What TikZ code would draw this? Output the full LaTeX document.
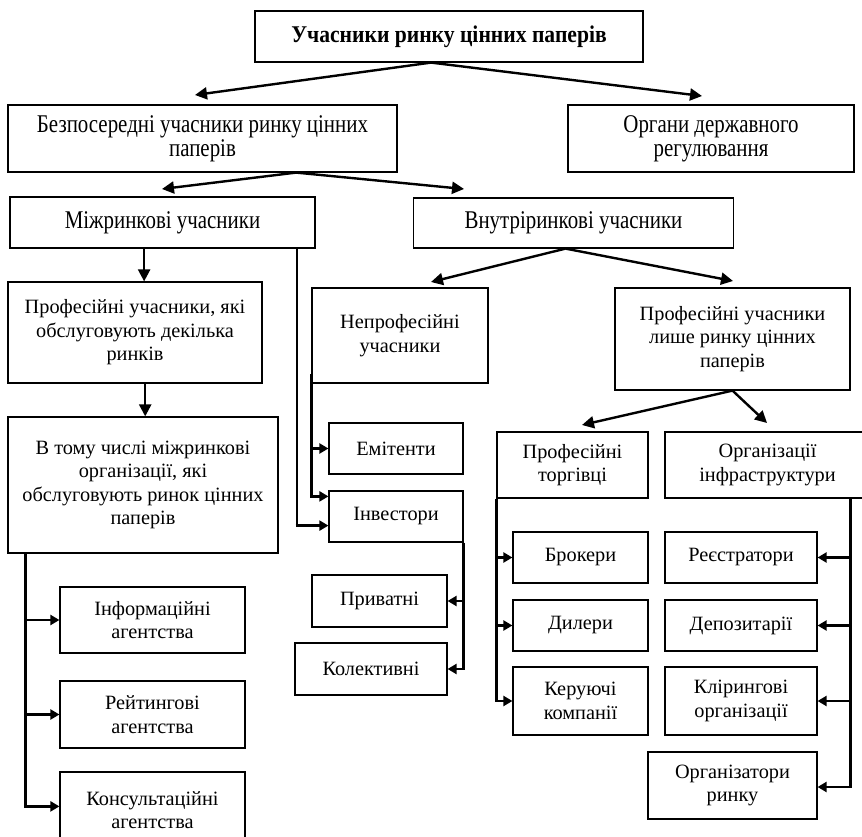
\documentclass[tikz,border=0pt]{standalone}
\usepackage{fontspec}
\setmainfont{Liberation Serif}
\newfontfamily\narrowserif[FakeStretch=0.82]{Liberation Serif}
\newfontfamily\titleserif[FakeStretch=0.9]{Liberation Serif}
\usetikzlibrary{arrows.meta,calc}
\begin{document}
\begin{tikzpicture}[x=1pt,y=-1pt,
  box/.style={draw, line width=1.2pt, align=center, inner sep=0pt,
    font=\fontsize{20.3}{23.5}\selectfont},
  upperbox/.style={box, font=\narrowserif\fontsize{25.5}{24}\selectfont},
  titlebox/.style={box, font=\titleserif\bfseries\fontsize{24}{24}\selectfont},
  arr/.style={line width=2.4pt, -{Triangle[length=12pt,width=12pt]}},
  bar/.style={line width=2.6pt},
  thinbar/.style={line width=2pt},
  tick/.style={line width=2.6pt, -{Triangle[length=9pt,width=10pt]}},
]
\useasboundingbox (0,0) rectangle (862,837);
\begin{scope}
\clip (0,0) rectangle (862,837);

% --- upper levels ---
\node[titlebox, minimum width=388pt, minimum height=51pt] (top) at (449,36.5)
  {Учасники ринку цінних паперів};
\node[upperbox, minimum width=389pt, minimum height=67pt] (bez) at (202.5,138.5)
  {Безпосередні учасники ринку цінних\\паперів};
\node[upperbox, minimum width=286pt, minimum height=67pt] (org) at (711,138.5)
  {Органи державного\\регулювання};
\node[upperbox, minimum width=305pt, minimum height=51pt] (mizh) at (162.5,222.5)
  {Міжринкові учасники};
\node[upperbox, minimum width=320pt, minimum height=50pt] (vnut) at (573.5,223)
  {Внутріринкові учасники};

% --- middle levels ---
\node[box, minimum width=254pt, minimum height=101pt] (pmany) at (135,332.5)
  {Професійні учасники, які\\обслуговують декілька\\ринків};
\node[box, minimum width=270pt, minimum height=136pt] (vtomu) at (143,485)
  {В тому числі міжринкові\\організації, які\\обслуговують ринок цінних\\паперів};
\node[box, minimum width=176pt, minimum height=95pt] (neprof) at (400,335.5)
  {Непрофесійні\\учасники};
\node[box, minimum width=235pt, minimum height=102pt] (ponly) at (732.5,339)
  {Професійні учасники\\лише ринку цінних\\паперів};
\node[box, minimum width=151pt, minimum height=66pt] (torg) at (572.5,465)
  {Професійні\\торгівці};
\node[box, minimum width=205pt, minimum height=66pt] (infra) at (767.5,465)
  {Організації\\інфраструктури};

% --- issuers and investors ---
\node[box, minimum width=134pt, minimum height=51pt] (emit) at (396,448.5) {Емітенти};
\node[box, minimum width=134pt, minimum height=51pt] (invest) at (396,516.5) {Інвестори};
\node[box, minimum width=135pt, minimum height=52pt] (pryv) at (379.5,601) {Приватні};
\node[box, minimum width=152pt, minimum height=52pt] (kolekt) at (371,669) {Колективні};

% --- agencies ---
\node[box, minimum width=185pt, minimum height=66pt] (inform) at (152.5,620)
  {Інформаційні\\агентства};
\node[box, minimum width=185pt, minimum height=67pt] (reit) at (152.5,714.5)
  {Рейтингові\\агентства};
\node[box, minimum width=185pt, minimum height=76pt] (konsult) at (152.5,810)
  {Консультаційні\\агентства};

% --- traders ---
\node[box, minimum width=135pt, minimum height=51pt] (brok) at (580.5,557.5) {Брокери};
\node[box, minimum width=135pt, minimum height=51pt] (dyl) at (580.5,625.5) {Дилери};
\node[box, minimum width=135pt, minimum height=68pt] (keruy) at (580.5,701)
  {Керуючі\\компанії};

% --- infrastructure ---
\node[box, minimum width=152pt, minimum height=51pt] (reestr) at (741,557.5) {Реєстратори};
\node[box, minimum width=152pt, minimum height=51pt] (depoz) at (741,625.5) {Депозитарії};
\node[box, minimum width=152pt, minimum height=68pt] (klir) at (741,701)
  {Клірингові\\організації};
\node[box, minimum width=169pt, minimum height=67pt] (orgr) at (732.5,785.5)
  {Організатори\\ринку};

% --- fork points and arrow tips ---
\coordinate (topfork) at ($(top.south west)!0.454!(top.south east)$);
\coordinate (bezfork) at ($(bez.south west)!0.74!(bez.south east)$);
\coordinate (vnutfork) at ($(vnut.south west)!0.475!(vnut.south east)$);
\coordinate (tipbez) at (195,95);
\coordinate (tiporg) at (702,96);
\coordinate (tipmizh) at (162,189);
\coordinate (tipvnut) at (464,189);
\coordinate (tipneprof) at (431,282);
\coordinate (tipponly) at (733,281);
\coordinate (tiptorg) at (582,425);
\coordinate (tipinfra) at (767,423);

\draw[arr] (topfork) -- (tipbez);
\draw[arr] (topfork) -- (tiporg);
\draw[arr] (bezfork) -- (tipmizh);
\draw[arr] (bezfork) -- (tipvnut);
\draw[arr] (vnutfork) -- (tipneprof);
\draw[arr] (vnutfork) -- (tipponly);
\draw[arr] (ponly.south) -- (tiptorg);
\draw[arr] (ponly.south) -- (tipinfra);

% --- cross-market chain ---
\coordinate (mizhdown) at ($(mizh.south west)!0.44!(mizh.south east)$);
\coordinate (mizhside) at ($(mizh.south west)!0.938!(mizh.south east)$);
\coordinate (pmanydown) at ($(pmany.south west)!0.54!(pmany.south east)$);
\draw[arr] (mizhdown) -- (mizhdown |- pmany.north);
\draw[arr] (pmanydown) -- (pmanydown |- vtomu.north);
\coordinate (invlow) at ($(invest.south west)+(0,-17)$);
\draw[thinbar] (mizhside) -- (mizhside |- invlow);
\draw[tick] ($(mizhside |- invlow)+(-1,0)$) -- (invlow);

% --- non-professional participants ---
\coordinate (npleft) at ($(neprof.south west)+(0,-10)$);
\coordinate (invhigh) at ($(invest.north west)+(0,6)$);
\draw[bar] (npleft) -- (npleft |- invhigh);
\draw[tick] ($(npleft |- emit.west)+(-1.3,0)$) -- (emit.west);
\draw[tick] ($(npleft |- invhigh)+(-1.3,0)$) -- (invhigh);

% --- investors ---
\coordinate (invright) at (invest.south east);
\draw[bar] (invright) -- (invright |- kolekt.east);
\draw[tick] ($(invright |- pryv.east)+(1.3,0)$) -- (pryv.east);
\draw[tick] ($(invright |- kolekt.east)+(1.3,0)$) -- (kolekt.east);

% --- agencies ---
\coordinate (vtleft) at ($(vtomu.south west)+(18,0)$);
\coordinate (konsin) at ($(konsult.north west)+(0,35)$);
\draw[bar] (vtleft) -- (vtleft |- konsin);
\draw[tick] ($(vtleft |- inform.west)+(-1.3,0)$) -- (inform.west);
\draw[tick] ($(vtleft |- reit.west)+(-1.3,0)$) -- (reit.west);
\draw[tick] ($(vtleft |- konsin)+(-1.3,0)$) -- (konsin);

% --- traders ---
\coordinate (trleft) at (torg.south west);
\draw[bar] (trleft) -- (trleft |- keruy.west);
\draw[tick] ($(trleft |- brok.west)+(-1.3,0)$) -- (brok.west);
\draw[tick] ($(trleft |- dyl.west)+(-1.3,0)$) -- (dyl.west);
\draw[tick] ($(trleft |- keruy.west)+(-1.3,0)$) -- (keruy.west);

% --- infrastructure ---
\coordinate (infright) at (ponly.south east |- infra.south);
\coordinate (orgrin) at ($(orgr.east)+(0,1.5)$);
\draw[bar] (infright) -- (infright |- orgrin);
\draw[tick] ($(infright |- reestr.east)+(1.3,0)$) -- (reestr.east);
\draw[tick] ($(infright |- depoz.east)+(1.3,0)$) -- (depoz.east);
\draw[tick] ($(infright |- klir.east)+(1.3,0)$) -- (klir.east);
\draw[tick] ($(infright |- orgrin)+(1.3,0)$) -- (orgrin);
\end{scope}
\end{tikzpicture}
\end{document}
